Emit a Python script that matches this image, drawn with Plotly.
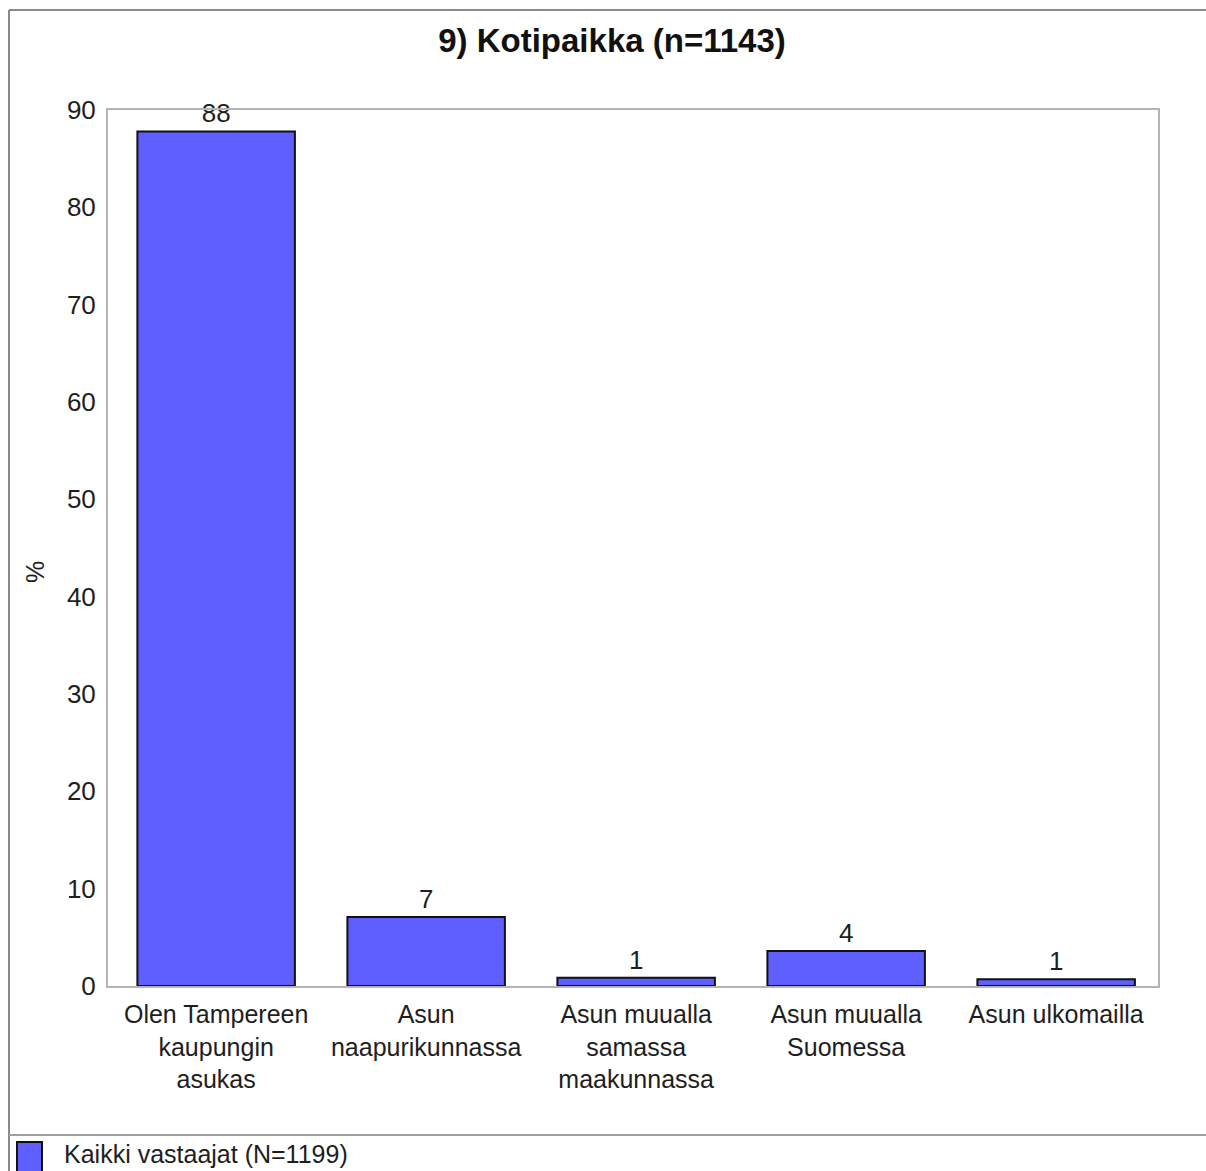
import plotly.graph_objects as go

# Survey question 9: home municipality of respondents (%)
categories = [
    "Olen Tampereen<br>kaupungin<br>asukas",
    "Asun<br>naapurikunnassa",
    "Asun muualla<br>samassa<br>maakunnassa",
    "Asun muualla<br>Suomessa",
    "Asun ulkomailla",
]
percent = [87.8, 7.1, 0.85, 3.6, 0.7]
series_name = "Kaikki vastaajat (N=1199)"
chart_title = "9) Kotipaikka (n=1143)"
y_title = "%"
y_ticks = [0, 10, 20, 30, 40, 50, 60, 70, 80, 90]

BAR_COLOR = "#5F5FFF"
FRAME = "#b4b4b4"
TEXT = "#1e1e1e"
FONT = "Liberation Sans, Arial, sans-serif"

fig = go.Figure()
fig.add_trace(go.Bar(
    x=categories,
    y=percent,
    name=series_name,
    marker=dict(color=BAR_COLOR, line=dict(color="#111111", width=2)),
    texttemplate="%{y:.0f}",
    textposition="outside",
    textfont=dict(size=26, color=TEXT, family=FONT),
    cliponaxis=False,
    showlegend=False,
))

W, H = 1206, 1171
L, R, T, B = 108, 48, 110, 185
pw, ph = W - L - R, H - T - B


def px_x(px):
    return (px - L) / pw


def px_y(py):
    return (H - B - py) / ph


shapes = [
    # outer frame (left and top edges) and legend separator
    dict(type="line", xref="paper", yref="paper", x0=px_x(9), x1=px_x(1230),
         y0=px_y(10), y1=px_y(10), line=dict(color="#8a8a8a", width=2)),
    dict(type="line", xref="paper", yref="paper", x0=px_x(9), x1=px_x(9),
         y0=px_y(10), y1=px_y(1200), line=dict(color="#8a8a8a", width=2)),
    dict(type="line", xref="paper", yref="paper", x0=px_x(9), x1=px_x(1230),
         y0=px_y(1135), y1=px_y(1135), line=dict(color="#a0a0a0", width=2)),
    # legend swatch
    dict(type="rect", xref="paper", yref="paper", x0=px_x(17), x1=px_x(42),
         y0=px_y(1142), y1=px_y(1180), fillcolor=BAR_COLOR,
         line=dict(color="#111111", width=2)),
]

annotations = [
    dict(text=series_name, xref="paper", yref="paper", x=px_x(62), y=px_y(1154),
         xanchor="left", yanchor="middle", showarrow=False,
         font=dict(size=25, color=TEXT, family=FONT)),
    dict(text=y_title, xref="paper", yref="paper", x=px_x(35), y=px_y(572),
         xanchor="center", yanchor="middle", showarrow=False, textangle=-90,
         font=dict(size=25, color=TEXT, family=FONT)),
]

fig.update_layout(
    width=W, height=H,
    margin=dict(l=L, r=R, t=T, b=B),
    paper_bgcolor="white", plot_bgcolor="white",
    title=dict(text="<b>" + chart_title + "</b>", x=612 / W, y=1 - 40 / H,
               xanchor="center", yanchor="middle", xref="container", yref="container",
               font=dict(size=33, color="#111111", family=FONT)),
    bargap=0.25,
    shapes=shapes,
    annotations=annotations,
    showlegend=False,
)
fig.update_xaxes(
    range=[-0.515, 4.485],
    showline=True, linecolor=FRAME, linewidth=2, mirror=True,
    showgrid=False, ticks="", tickfont=dict(size=25, color=TEXT, family=FONT),
    tickangle=0, ticklabelstandoff=5,
)
fig.update_yaxes(
    range=[0, 90], tickvals=y_ticks, showline=True, linecolor=FRAME, linewidth=2,
    mirror=True, showgrid=False, zeroline=False, ticks="",
    ticklabelstandoff=5,
    tickfont=dict(size=26, color=TEXT, family=FONT),
)

fig.write_html("out.html")
